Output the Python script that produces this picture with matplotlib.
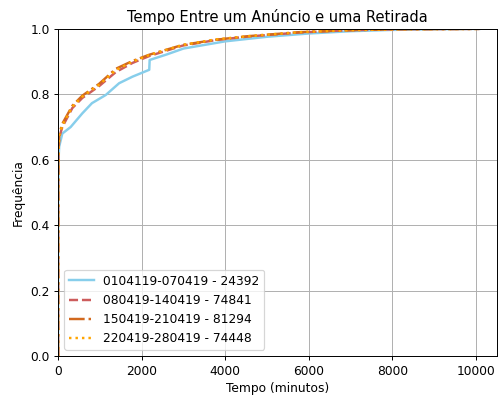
import matplotlib
matplotlib.use("Agg")
import matplotlib.pyplot as plt

# Cumulative share of ads withdrawn, by time (minutes) between posting and withdrawal
labels = ["0104119-070419 - 24392", "080419-140419 - 74841",
          "150419-210419 - 81294", "220419-280419 - 74448"]

t_a = [0, 2, 10, 25, 100, 300, 580, 810, 1140, 1460, 1780, 2180, 2190, 2600,
       3000, 4000, 5000, 6000, 7000, 8000, 9000, 10080]
f_a = [0, 0.50, 0.60, 0.64, 0.68, 0.70, 0.742, 0.773, 0.798, 0.834, 0.854, 0.875,
       0.905, 0.922, 0.94, 0.962, 0.976, 0.986, 0.993, 0.997, 0.999, 1.0]

t_b = [0, 2, 10, 30, 100, 340, 580, 980, 1380, 1780, 2180, 2980, 3780, 4570,
       5770, 6970, 8170, 10080]
f_b = [0, 0.55, 0.63, 0.67, 0.70, 0.758, 0.789, 0.825, 0.868, 0.896, 0.917,
       0.949, 0.966, 0.977, 0.989, 0.996, 0.999, 1.0]

t_c = [0, 2, 10, 30, 100, 340, 580, 980, 1380, 1780, 2180, 2980, 3780, 4570,
       5770, 6970, 8170, 10080]
f_c = [0, 0.56, 0.64, 0.68, 0.71, 0.765, 0.796, 0.832, 0.878, 0.902, 0.921,
       0.951, 0.967, 0.978, 0.99, 0.996, 0.999, 1.0]

t_d = [0, 2, 10, 30, 100, 340, 580, 980, 1380, 1780, 2180, 2980, 3780, 4570,
       5770, 6970, 8170, 10080]
f_d = [0, 0.55, 0.635, 0.675, 0.705, 0.762, 0.793, 0.829, 0.874, 0.90, 0.92,
       0.951, 0.968, 0.978, 0.99, 0.996, 0.999, 1.0]

fig = plt.figure(figsize=(501 / 88, 396 / 88), dpi=88)
ax = fig.add_axes([0.116, 0.101, 0.876, 0.826])

ax.plot(t_a, f_a, color="skyblue", lw=2, label=labels[0])
ax.plot(t_b, f_b, color="indianred", lw=2, ls="--", label=labels[1])
ax.plot(t_c, f_c, color="chocolate", lw=2, ls="-.", label=labels[2])
ax.plot(t_d, f_d, color="orange", lw=2, ls=":", label=labels[3])

ax.set_xlim(0, 10500)
ax.set_ylim(0, 1.0)
ax.grid(True)
ax.set_title("Tempo Entre um Anúncio e uma Retirada")
ax.set_xlabel("Tempo (minutos)")
ax.set_ylabel("Frequência")
ax.legend(loc="lower left")

fig.savefig("out.png", dpi=88)
